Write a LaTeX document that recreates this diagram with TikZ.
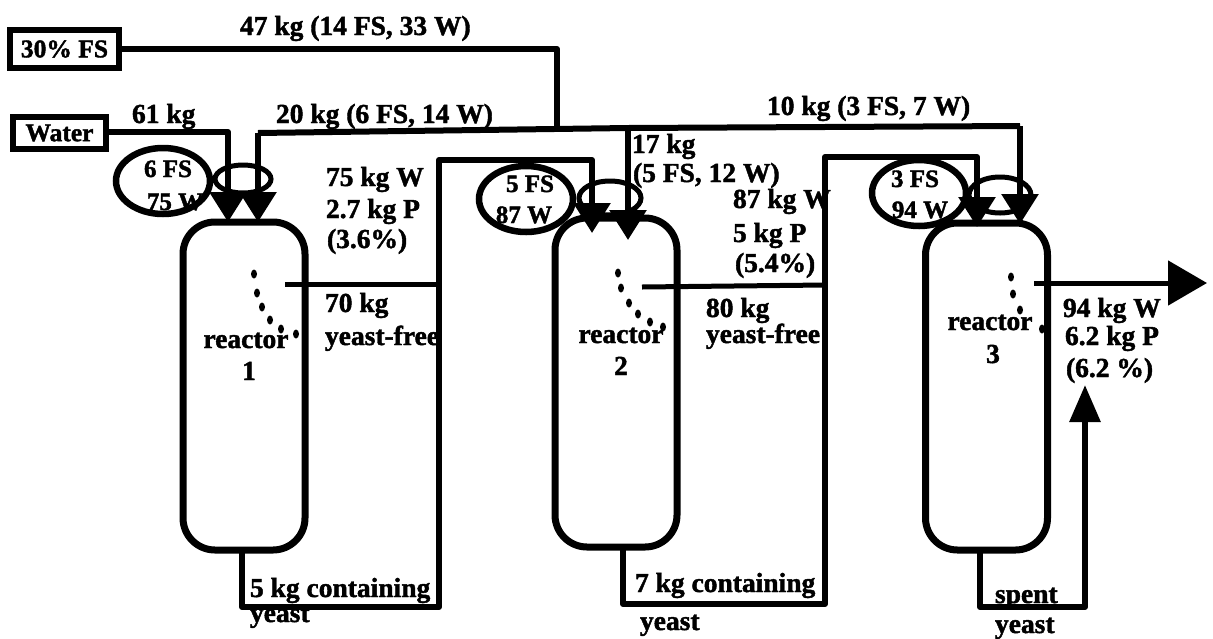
\documentclass[tikz,border=0pt]{standalone}
\usepackage{fontspec}
\setmainfont[BoldFeatures={FakeBold=1.6}]{Liberation Serif}
\usetikzlibrary{arrows.meta,shapes.geometric,positioning}
\tikzset{
  pipe/.style={line width=6pt,line join=round,draw=black},
  flow/.style={pipe,-{Triangle[length=30pt,width=36pt]}},
  lab/.style={anchor=base west,inner sep=0pt,outer sep=0pt,font=\fontsize{27.5}{29}\selectfont\bfseries},
  clab/.style={anchor=base,inner sep=0pt,outer sep=0pt,font=\fontsize{27.5}{29}\selectfont\bfseries},
  rlab/.style={anchor=base,inner sep=0pt,outer sep=0pt,font=\fontsize{25}{27}\selectfont\bfseries},
  feedbox/.style={draw=black,line width=6pt,inner sep=0pt,font=\fontsize{25.5}{27}\selectfont\bfseries},
  reactorbox/.style={draw=black,line width=7pt,rounded corners=32pt,minimum width=122pt,inner sep=0pt},
  bigring/.style={draw=black,ellipse,line width=6.5pt,inner sep=0pt,minimum width=94pt,minimum height=66pt},
  smallring/.style={draw=black,ellipse,line width=5pt,inner sep=0pt,minimum width=56pt,minimum height=28pt},
  drop/.style={fill=black,ellipse,inner sep=0pt,minimum width=6pt,minimum height=9pt}
}
\begin{document}
\begin{tikzpicture}[x=1pt,y=-1pt]
\useasboundingbox (0,0) rectangle (1213,638);
% feeds
\node[feedbox,minimum width=109pt,minimum height=38pt] (fs) at (64.5,49) {30\% FS};
\node[feedbox,minimum width=93pt,minimum height=32pt] (water) at (59.5,133) {Water};
% reactors
\node[reactorbox,minimum height=328pt] (r1) at (244,386) {};
\node[reactorbox,minimum height=329pt] (r2) at (616,382.5) {};
\node[reactorbox,minimum height=327pt] (r3) at (986.5,386.5) {};
% rings
\node[bigring] (e1) at (163,181) {};
\node[bigring] (e2) at (526,199) {};
\node[bigring] (e3) at (919,193) {};
\node[smallring] (s1) at (243,179) {};
\node[smallring,minimum width=62pt,minimum height=34pt] (s2) at (610,198) {};
\node[smallring,minimum width=62pt,minimum height=36pt] (s3) at (1000,195) {};
% junctions
\coordinate (jm) at (557,128);
\coordinate (j2) at (628,128);
\coordinate (w1) at (228,132);
\coordinate (t1a) at (228,222);
\coordinate (t1b) at (258,222);
\coordinate (m1) at (258,133);
\coordinate (t2a) at (592,233);
\coordinate (t2b) at (628,240);
\coordinate (t3a) at (977,227);
\coordinate (t3b) at (1020,224);
\coordinate (m3) at (1020,126);
\coordinate (o1) at (285,284);
\coordinate (o1e) at (439,284);
\coordinate (o2) at (642,287);
\coordinate (o2e) at (825,285);
\coordinate (o3) at (1034,283);
\coordinate (o3e) at (1207,283);
\coordinate (b1) at (242,550);
\coordinate (b1a) at (242,607);
\coordinate (b1b) at (439,607);
\coordinate (b1c) at (439,160);
\coordinate (b1d) at (592,160);
\coordinate (b2) at (623,547);
\coordinate (b2a) at (623,604);
\coordinate (b2b) at (825,604);
\coordinate (b2c) at (825,157);
\coordinate (b2d) at (977,157);
\coordinate (b3) at (980,550);
\coordinate (b3a) at (980,607);
\coordinate (b3b) at (1085,607);
\coordinate (b3t) at (1085,385);
% pipes
\draw[pipe] (fs.east) -- (fs.east -| jm) -- (jm);
\draw[flow] (water.east |- w1) -- (w1) -- (t1a);
\draw[flow] (m1) -- (t1b);
\draw[pipe] (m1) -- (j2) -- (m3);
\draw[flow] (m3) -- (t3b);
\draw[flow] (j2) -- (t2b);
\draw[flow] (b1) -- (b1a) -- (b1b) -- (b1c) -- (b1d) -- (t2a);
\draw[flow] (b2) -- (b2a) -- (b2b) -- (b2c) -- (b2d) -- (t3a);
\draw[pipe,line width=5pt] (o1) -- (o1e);
\draw[pipe,line width=5pt] (o2) -- (o2e);
\draw[pipe,line width=5pt,-{Triangle[length=39pt,width=44pt]}] (o3) -- (o3e);
\draw[pipe,-{Triangle[length=37pt,width=30pt]}] (b3) -- (b3a) -- (b3b) -- (b3t);
% drops
\foreach \n/\x/\y in {a/254/274,b/257/293,c/262/307,d/270/320,e/281/329,f/296/334,
 g/618/273,h/621/288,i/629/303,j/638/314,k/650/322,l/663/327,
 m/1011/277,n/1013/294,o/1020/310,p/1042/329}
  \node[drop] (d\n) at (\x,\y) {};
% labels
\node[lab] (l47) at (240,35) {47 kg (14 FS, 33 W)};
\node[lab] (l61) at (132,123) {61 kg};
\node[lab] (l20) at (276,123) {20 kg (6 FS, 14 W)};
\node[lab] (l10) at (767,115) {10 kg (3 FS, 7 W)};
\node[rlab] (f1) at (168,177) {6 FS};
\node[rlab] (w1t) at (175,210) {75 W};
\node[rlab] (f2) at (530,192) {5 FS};
\node[rlab] (w2t) at (524,223) {87 W};
\node[rlab] (f3) at (915,187) {3 FS};
\node[rlab] (w3t) at (920,218) {94 W};
\node[lab] (a1) at (326,186) {75 kg W};
\node[lab] (a2) at (326,218) {2.7 kg P};
\node[lab] (a3) at (327,248) {(3.6\%)};
\node[lab] (a4) at (325,312) {70 kg};
\node[lab] (a5) at (325,345) {yeast-free};
\node[clab] (r1a) at (246,348) {reactor};
\node[clab] (r1b) at (249,380) {1};
\node[lab] (c1) at (632,153) {17 kg};
\node[lab] (c2) at (633,182) {(5 FS, 12 W)};
\node[lab] (c3) at (733,208) {87 kg W};
\node[lab] (c4) at (733,242) {5 kg P};
\node[lab] (c5) at (735,272) {(5.4\%)};
\node[lab] (c6) at (706,317) {80 kg};
\node[lab] (c7) at (706,343) {yeast-free};
\node[clab] (r2a) at (621,343) {reactor};
\node[clab] (r2b) at (621,375) {2};
\node[clab] (r3a) at (990,330) {reactor};
\node[clab] (r3b) at (993,363) {3};
\node[lab] (e1t) at (1063,317) {94 kg W};
\node[lab] (e2t) at (1065,345) {6.2 kg P};
\node[lab] (e3t) at (1066,377) {(6.2 \%)};
\node[lab] (y1) at (250,597) {5 kg containing};
\node[lab] (y2) at (250,622) {yeast};
\node[lab] (y3) at (635,592) {7 kg containing};
\node[lab] (y4) at (640,630) {yeast};
\node[lab] (y5) at (995,603) {spent};
\node[lab] (y6) at (995,633) {yeast};
\end{tikzpicture}
\end{document}
